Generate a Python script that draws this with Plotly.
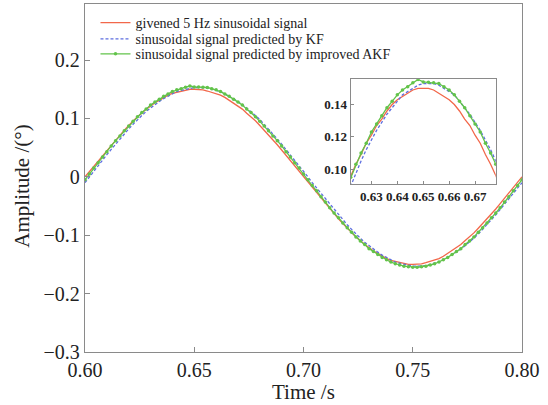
import plotly.graph_objects as go

# sample instants, 0.600 s .. 0.800 s every 2 ms
time_s = [round(0.6 + 0.002 * i, 3) for i in range(101)]

# given 5 Hz sinusoid
given = [
    0.000, 0.009, 0.019, 0.028, 0.037, 0.046, 0.055, 0.064, 0.072, 0.080,
    0.088, 0.096, 0.103, 0.109, 0.116, 0.121, 0.127, 0.131, 0.136, 0.140,
    0.143, 0.145, 0.147, 0.149, 0.150, 0.150, 0.150, 0.149, 0.147, 0.145,
    0.143, 0.140, 0.136, 0.131, 0.127, 0.121, 0.116, 0.109, 0.103, 0.096,
    0.088, 0.080, 0.072, 0.064, 0.055, 0.046, 0.037, 0.028, 0.019, 0.009,
    0.000, -0.009, -0.019, -0.028, -0.037, -0.046, -0.055, -0.064, -0.072, -0.080,
    -0.088, -0.096, -0.103, -0.109, -0.116, -0.121, -0.127, -0.131, -0.136, -0.140,
    -0.143, -0.145, -0.147, -0.149, -0.150, -0.150, -0.150, -0.149, -0.147, -0.145,
    -0.143, -0.140, -0.136, -0.131, -0.127, -0.121, -0.116, -0.109, -0.103, -0.096,
    -0.088, -0.080, -0.072, -0.064, -0.055, -0.046, -0.037, -0.028, -0.019, -0.009,
    0.000,
]

# KF prediction (slightly lagging)
kf = [
    -0.010, 0.000, 0.010, 0.019, 0.029, 0.038, 0.047, 0.056, 0.065, 0.074,
    0.082, 0.090, 0.098, 0.105, 0.112, 0.118, 0.124, 0.129, 0.134, 0.138,
    0.142, 0.146, 0.148, 0.150, 0.152, 0.153, 0.153, 0.153, 0.152, 0.150,
    0.148, 0.146, 0.142, 0.138, 0.134, 0.129, 0.124, 0.118, 0.112, 0.105,
    0.098, 0.090, 0.082, 0.074, 0.065, 0.056, 0.047, 0.038, 0.029, 0.019,
    0.010, 0.000, -0.010, -0.019, -0.029, -0.038, -0.047, -0.056, -0.065, -0.074,
    -0.082, -0.090, -0.098, -0.105, -0.112, -0.118, -0.124, -0.129, -0.134, -0.138,
    -0.142, -0.146, -0.148, -0.150, -0.152, -0.153, -0.153, -0.153, -0.152, -0.150,
    -0.148, -0.146, -0.142, -0.138, -0.134, -0.129, -0.124, -0.118, -0.112, -0.105,
    -0.098, -0.090, -0.082, -0.074, -0.065, -0.056, -0.047, -0.038, -0.029, -0.019,
    -0.010,
]

# improved AKF prediction
akf = [
    -0.005, 0.005, 0.015, 0.024, 0.034, 0.043, 0.053, 0.062, 0.070, 0.079,
    0.087, 0.095, 0.103, 0.110, 0.116, 0.123, 0.128, 0.133, 0.138, 0.142,
    0.146, 0.149, 0.151, 0.1535, 0.1555, 0.154, 0.1538, 0.1535, 0.153, 0.151,
    0.149, 0.146, 0.142, 0.138, 0.133, 0.128, 0.123, 0.116, 0.110, 0.103,
    0.095, 0.087, 0.079, 0.070, 0.062, 0.053, 0.043, 0.034, 0.024, 0.015,
    0.005, -0.005, -0.015, -0.024, -0.034, -0.043, -0.053, -0.062, -0.070, -0.079,
    -0.087, -0.095, -0.103, -0.110, -0.116, -0.123, -0.128, -0.133, -0.138, -0.142,
    -0.146, -0.149, -0.151, -0.153, -0.154, -0.155, -0.155, -0.154, -0.153, -0.151,
    -0.149, -0.146, -0.142, -0.138, -0.133, -0.128, -0.123, -0.116, -0.110, -0.103,
    -0.095, -0.087, -0.079, -0.070, -0.062, -0.053, -0.043, -0.034, -0.024, -0.015,
    -0.005,
]

main_xticks = [0.60, 0.65, 0.70, 0.75, 0.80]
main_yticks = [-0.3, -0.2, -0.1, 0, 0.1, 0.2]
main_ytext = ["\u22120.3", "\u22120.2", "\u22120.1", "0", "0.1", "0.2"]
inset_xticks = [0.63, 0.64, 0.65, 0.66, 0.67]
inset_yticks = [0.10, 0.12, 0.14]

RED = "#f2674a"
BLUE = "#5d6ee0"
GREEN = "#62c34a"
FONT = "Liberation Serif"
INK = "#222222"

fig = go.Figure()

series = [
    ("givened 5 Hz sinusoidal signal", given, dict(color=RED, width=1.3), "lines", "legend"),
    ("sinusoidal signal predicted by KF", kf, dict(color=BLUE, width=1.3, dash="3px,2px"), "lines", "legend2"),
    ("sinusoidal signal predicted by improved AKF", akf, dict(color=GREEN, width=1.3), "lines+markers", "legend3"),
]

for name, ys, line, mode, leg in series:
    # main panel
    fig.add_trace(go.Scatter(x=time_s, y=ys, name=name, mode=mode, line=line,
                             marker=dict(size=3.5, color=GREEN), legend=leg,
                             xaxis="x", yaxis="y"))
    # zoomed inset
    fig.add_trace(go.Scatter(x=time_s, y=ys, mode=mode, line=line,
                             marker=dict(size=3.5, color=GREEN), showlegend=False,
                             xaxis="x2", yaxis="y2"))

axis_common = dict(showgrid=False, zeroline=False, showline=True, mirror=True,
                   linecolor="#8a8a8a", linewidth=1.3, ticks="inside",
                   tickcolor="#8a8a8a", automargin=False)

leg_common = dict(x=0.024, xanchor="left", yanchor="middle", bgcolor="rgba(0,0,0,0)",
                  font=dict(family=FONT, size=14, color=INK), borderwidth=0)

big = dict(family=FONT, size=20, color=INK)
title_font = dict(family=FONT, size=21, color=INK)
small = dict(family=FONT, size=13, color=INK, weight="bold")

fig.update_layout(
    template="none",
    width=548, height=405,
    margin=dict(l=85, r=26, t=4, b=53),
    paper_bgcolor="white", plot_bgcolor="white",
    font=dict(family=FONT, color=INK),
    xaxis=dict(range=[0.6, 0.8], tickvals=main_xticks, tickformat=".2f", ticklen=5,
               tickfont=big, **axis_common),
    yaxis=dict(range=[-0.3, 0.296], tickvals=main_yticks, ticktext=main_ytext, ticklen=5,
               tickfont=big, **axis_common),
    xaxis2=dict(domain=[0.608, 0.940], anchor="y2", range=[0.622, 0.678],
                tickvals=inset_xticks, tickformat=".2f", ticklen=3, tickangle=0,
                tickfont=small, **axis_common),
    yaxis2=dict(domain=[0.4815, 0.784], anchor="x2", range=[0.0905, 0.1557],
                tickvals=inset_yticks, tickformat=".2f", ticklen=3,
                tickfont=small, **axis_common),
    legend=dict(y=0.9453, **leg_common),
    legend2=dict(y=0.8988, **leg_common),
    legend3=dict(y=0.8556, **leg_common),
)

# axis titles placed as paper annotations so they sit where the original has them
fig.add_annotation(text="Time /s", xref="paper", yref="paper", x=0.5, y=-0.116,
                   xanchor="center", yanchor="middle", showarrow=False, font=title_font)
fig.add_annotation(text="Amplitude /(°)", xref="paper", yref="paper", x=-0.143, y=0.4766,
                   xanchor="center", yanchor="middle", textangle=-90, showarrow=False,
                   font=title_font)

# drop the browser's default 8px body margin so the figure starts at the page corner
fig.write_html("out.html", config={"displayModeBar": False},
               post_script="document.body.style.margin='0';")
